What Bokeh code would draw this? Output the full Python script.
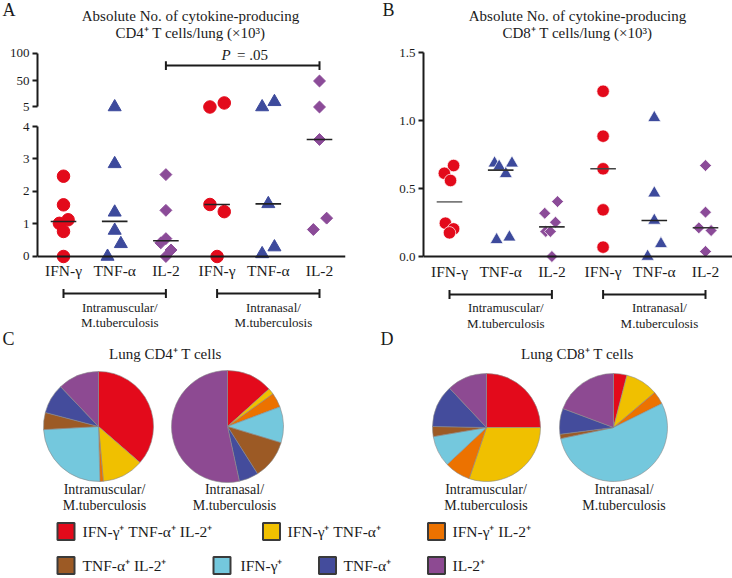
import numpy as np
from bokeh.plotting import figure
from bokeh.models import FixedTicker, Range1d, PrintfTickFormatter
from bokeh.layouts import column, row
from bokeh.embed import file_html
from bokeh.resources import INLINE
from bokeh.core.properties import value

FONT = "Liberation Serif"
INK = "#1b1b1b"

# ---------------- data ----------------
cytokines = ["IFN-γ", "TNF-α", "IL-2"]
tick_labels = cytokines + cytokines
route_line1 = ["Intramuscular/", "Intranasal/"]
route_line2 = ["M.tuberculosis", "M.tuberculosis"]

# Panel A: absolute no. of cytokine-producing CD4+ T cells/lung (x10^3)
cd4_im_ifng = [2.47, 1.59, 1.13, 1.02, 0.77, 0.0]
cd4_im_tnfa = [5.0, 2.85, 1.36, 0.80, 0.39, 0.0]
cd4_im_il2 = [2.52, 1.42, 0.55, 0.42, 0.20, 0.0]
cd4_in_ifng = [12.0, 5.0, 1.60, 1.38, 0.0]
cd4_in_tnfa = [14.0, 5.0, 1.62, 0.29, 0.08]
cd4_in_il2 = [50.0, 5.0, 3.60, 1.18, 0.83]
# horizontal scatter of the dots (category units)
cd4_im_ifng_jit = [0, 0, 0.09, -0.08, 0, 0]
cd4_im_tnfa_jit = [0, 0, 0, 0, 0.12, -0.14]
cd4_im_il2_jit = [0, 0, 0, -0.10, 0.10, 0]
cd4_in_ifng_jit = [0.14, -0.14, -0.14, 0.14, 0]
cd4_in_tnfa_jit = [0.12, -0.12, 0, 0.12, -0.12]
cd4_in_il2_jit = [0, 0, 0, 0.14, -0.12]

# Panel B: absolute no. of cytokine-producing CD8+ T cells/lung (x10^3)
cd8_im_ifng = [0.669, 0.612, 0.559, 0.245, 0.203, 0.174]
cd8_im_tnfa = [0.686, 0.662, 0.686, 0.608, 0.123, 0.142]
cd8_im_il2 = [0.404, 0.318, 0.252, 0.184, 0.184, 0.0]
cd8_in_ifng = [1.215, 0.885, 0.645, 0.343, 0.069]
cd8_in_tnfa = [1.02, 0.466, 0.265, 0.093, 0.0]
cd8_in_il2 = [0.669, 0.326, 0.211, 0.191, 0.037]
cd8_im_ifng_jit = [0.08, -0.10, 0.02, -0.08, 0.08, 0]
cd8_im_tnfa_jit = [-0.12, -0.03, 0.22, 0.10, -0.08, 0.17]
cd8_im_il2_jit = [0.11, -0.14, 0.07, -0.12, -0.03, 0]
cd8_in_ifng_jit = [0, 0, 0, 0, 0]
cd8_in_tnfa_jit = [0, 0, 0, 0.13, -0.13]
cd8_in_il2_jit = [0, 0, -0.13, 0.11, 0]

# Panels C, D: subset composition (%), legend order
subsets = ["IFN-γ⁺ TNF-α⁺ IL-2⁺", "IFN-γ⁺ TNF-α⁺", "IFN-γ⁺ IL-2⁺",
           "TNF-α⁺ IL-2⁺", "IFN-γ⁺", "TNF-α⁺", "IL-2⁺"]
subset_colors = ["#e30a1b", "#f0c000", "#ec7200", "#9c5a25", "#74c8dd", "#444c9c", "#8d4a92"]
pie_order = [0, 1, 2, 4, 3, 5, 6]   # clockwise from 12 o'clock
cd4_im_pie = [36.4, 12.2, 1.0, 5.0, 24.5, 8.8, 12.1]
cd4_in_pie = [13.3, 1.8, 4.2, 11.3, 10.4, 5.6, 53.4]
cd8_im_pie = [25.0, 30.2, 7.8, 3.0, 9.3, 12.7, 12.0]
cd8_in_pie = [4.0, 9.8, 3.9, 1.3, 54.0, 7.7, 19.3]

# broken axis of panel A: 0-4 linear, then 5 / 50 / 100 segment
break_vals = [5, 50, 100]
break_pos = [4.6, 5.4, 6.25]

marker_specs = [("circle", "#e30a1b", 12.5, 0.0),
                ("triangle", "#3d4a9c", 13, 0.0),
                ("square", "#8b4b98", 8.4, np.pi / 4)]


def a_pos(v):
    v = np.asarray(v, float)
    return np.where(v <= 4, v, np.interp(v, break_vals, break_pos))


def style_common(p):
    p.grid.visible = False
    p.outline_line_color = None
    p.background_fill_color = "white"
    p.border_fill_color = "white"


def style_yaxis(ax):
    ax.axis_line_width = 2
    ax.axis_line_color = INK
    ax.major_tick_line_width = 2
    ax.major_tick_line_color = INK
    ax.major_tick_out = 5
    ax.major_tick_in = 0
    ax.minor_tick_line_color = None
    ax.minor_tick_out = 0
    ax.major_label_text_font = FONT
    ax.major_label_text_font_size = "13px"
    ax.major_label_text_color = INK
    ax.major_label_standoff = 3


def style_xaxis(ax):
    ax.fixed_location = 0
    ax.ticker = FixedTicker(ticks=[1, 2, 3, 4, 5, 6])
    ax.major_label_overrides = {i + 1: t for i, t in enumerate(tick_labels)}
    ax.axis_line_width = 2
    ax.axis_line_color = INK
    ax.major_tick_line_color = None
    ax.major_tick_out = 0
    ax.major_tick_in = 0
    ax.minor_tick_line_color = None
    ax.major_label_text_font = FONT
    ax.major_label_text_font_size = "15.5px"
    ax.major_label_text_color = INK
    ax.major_label_standoff = 6


def txt(p, x, y, s, size, align="center", style="normal"):
    p.text(x=[x], y=[y], text=[s], text_font=value(FONT), text_font_size=size,
           text_align=align, text_baseline="middle", text_color=INK, text_font_style=style)


def points(p, pos, vals, jit, spec, keep=None, edge=None):
    marker, color, size, ang = spec
    x = pos + np.asarray(jit, float)
    y = np.asarray(vals, float)
    if keep is not None:
        m = keep(y)
        x, y = x[m], y[m]
        y = a_pos(y)
    if len(y):
        p.scatter(x, y, marker=marker, size=size, fill_color=color,
                  line_color=edge or color, line_width=0.7 if edge else 1, angle=ang)


def medians(p, vals_list, colors, half=0.25):
    med = [float(np.median(v)) for v in vals_list]
    pos = np.arange(1, len(vals_list) + 1)
    p.segment(x0=pos - half, x1=pos + half, y0=med, y1=med, line_color=colors, line_width=1.6)


def brackets(p, level, cap):
    for g in range(2):
        a, b = 3 * g + 1, 3 * g + 3
        p.segment(x0=[a], x1=[b], y0=[level], y1=[level], line_color=INK, line_width=2)
        p.segment(x0=[a, b], x1=[a, b], y0=[level - cap] * 2, y1=[level + cap] * 2,
                  line_color=INK, line_width=2)


def header(width, height):
    h = figure(width=width, height=height, x_range=Range1d(0, width), y_range=Range1d(0, height),
               output_backend="svg", toolbar_location=None,
               min_border_left=0, min_border_right=0, min_border_top=0, min_border_bottom=0)
    style_common(h)
    h.axis.visible = False
    return h


CAT_PX = 51.2
X_START = 1 - 26 / CAT_PX
shared_ax = Range1d(X_START, X_START + 308 / CAT_PX)

cd4_sets = [cd4_im_ifng, cd4_im_tnfa, cd4_im_il2, cd4_in_ifng, cd4_in_tnfa, cd4_in_il2]
cd4_jits = [cd4_im_ifng_jit, cd4_im_tnfa_jit, cd4_im_il2_jit, cd4_in_ifng_jit, cd4_in_tnfa_jit, cd4_in_il2_jit]
cd8_sets = [cd8_im_ifng, cd8_im_tnfa, cd8_im_il2, cd8_in_ifng, cd8_in_tnfa, cd8_in_il2]
cd8_jits = [cd8_im_ifng_jit, cd8_im_tnfa_jit, cd8_im_il2_jit, cd8_in_ifng_jit, cd8_in_tnfa_jit, cd8_in_il2_jit]

# ---------------- Panel A header ----------------
hA = header(370, 44)
txt(hA, 2, 35, "A", "18px", align="left")
txt(hA, 190, 29, "Absolute No. of cytokine-producing", "15px")
txt(hA, 190, 12, "CD4⁺ T cells/lung (×10³)", "15px")

# ---------------- Panel A, upper segment ----------------
fa_top = figure(width=370, height=74, x_range=shared_ax, y_range=Range1d(4.246, 6.523),
                output_backend="svg", toolbar_location=None,
                min_border_left=37, min_border_right=25, min_border_top=0, min_border_bottom=0)
style_common(fa_top)
fa_top.xaxis.visible = False
style_yaxis(fa_top.yaxis[0])
fa_top.yaxis.ticker = FixedTicker(ticks=break_pos)
fa_top.yaxis.major_label_overrides = {break_pos[i]: str(break_vals[i]) for i in range(3)}
fa_top.yaxis.bounds = (break_pos[0], break_pos[-1])
for i in range(6):
    points(fa_top, i + 1, cd4_sets[i], cd4_jits[i], marker_specs[i % 3], keep=lambda y: y >= 5)
# significance bracket IL-2 IM vs IL-2 IN
fa_top.segment(x0=[3], x1=[6], y0=[5.877], y1=[5.877], line_color=INK, line_width=2)
fa_top.segment(x0=[3, 6], x1=[3, 6], y0=[5.74] * 2, y1=[6.01] * 2, line_color=INK, line_width=2)
txt(fa_top, 4.086, 6.215, "P", "15px", align="left", style="italic")
txt(fa_top, 4.39, 6.215, "= .05", "15px", align="left")

# ---------------- Panel A, lower segment ----------------
fa_bot = figure(width=370, height=212, x_range=shared_ax, y_range=Range1d(-2.277, 4.246),
                output_backend="svg", toolbar_location=None,
                min_border_left=37, min_border_right=25, min_border_top=0, min_border_bottom=0)
style_common(fa_bot)
style_yaxis(fa_bot.yaxis[0])
fa_bot.yaxis.ticker = FixedTicker(ticks=[0, 1, 2, 3, 4])
fa_bot.yaxis.bounds = (0, 4)
style_xaxis(fa_bot.xaxis[0])
for i in range(6):
    points(fa_bot, i + 1, cd4_sets[i], cd4_jits[i], marker_specs[i % 3], keep=lambda y: y <= 4)
medians(fa_bot, cd4_sets, ["#222222"] * 6)
brackets(fa_bot, -1.138, 0.138)
for g in range(2):
    txt(fa_bot, 3 * g + 2.1, -1.57, route_line1[g], "13px")
    txt(fa_bot, 3 * g + 2.1, -2.03, route_line2[g], "13px")

# ---------------- Panel B ----------------
hB = header(362, 44)
txt(hB, 12, 35, "B", "18px", align="left")
txt(hB, 207, 29, "Absolute No. of cytokine-producing", "15px")
txt(hB, 207, 12, "CD8⁺ T cells/lung (×10³)", "15px")

fB = figure(width=362, height=286, x_range=Range1d(X_START, X_START + 309 / CAT_PX),
            y_range=Range1d(-0.544, 1.559),
            output_backend="svg", toolbar_location=None,
            min_border_left=53, min_border_right=0, min_border_top=0, min_border_bottom=0)
style_common(fB)
style_yaxis(fB.yaxis[0])
fB.yaxis.ticker = FixedTicker(ticks=[0, 0.5, 1.0, 1.5])
fB.yaxis.formatter = PrintfTickFormatter(format="%.1f")
fB.yaxis.bounds = (0, 1.5)
style_xaxis(fB.xaxis[0])
for i in range(6):
    points(fB, i + 1, cd8_sets[i], cd8_jits[i], marker_specs[i % 3], edge="white")
medians(fB, cd8_sets, ["#7a7a7a", "#333333", "#333333", "#444444", "#222222", "#333333"])
brackets(fB, -0.279, 0.033)
for g in range(2):
    txt(fB, 3 * g + 2.1, -0.375, route_line1[g], "13px")
    txt(fB, 3 * g + 2.1, -0.493, route_line2[g], "13px")

# ---------------- Panels C, D (pies) + legend ----------------
fP = header(732, 248)

pies = [(98, 152, 55, cd4_im_pie), (227, 152, 56, cd4_in_pie),
        (486, 151, 54, cd8_im_pie), (613, 151, 54, cd8_in_pie)]
for cx, cy, r, pct in pies:
    vals = np.array([pct[k] for k in pie_order], float)
    frac = vals / vals.sum()
    cum = np.concatenate([[0.0], np.cumsum(frac)])
    start = np.pi / 2 - 2 * np.pi * cum[:-1]
    end = np.pi / 2 - 2 * np.pi * cum[1:]
    fP.wedge(x=[cx] * len(frac), y=[cy] * len(frac), radius=r, start_angle=start, end_angle=end,
             direction="clock", fill_color=[subset_colors[k] for k in pie_order],
             line_color="#8a8a8a", line_width=0.6)

txt(fP, 2, 240, "C", "18px", align="left")
txt(fP, 380, 240, "D", "18px", align="left")
txt(fP, 165, 225, "Lung CD4⁺ T cells", "15px")
txt(fP, 577, 225, "Lung CD8⁺ T cells", "15px")
pie_label_x = [104, 234, 485.5, 623.5]
for k, lx in enumerate(pie_label_x):
    txt(fP, lx, 89, route_line1[k % 2], "14px")
    txt(fP, lx, 73, route_line2[k % 2], "14px")

legend_sw_x = [65.5, 271, 436, 65.5, 221.5, 327, 436]
legend_tx_x = [82, 287, 452, 82, 240, 343, 452]
legend_y = [47, 47, 47, 13, 13, 13, 13]
fP.rect(x=legend_sw_x, y=legend_y, width=17, height=17, fill_color=subset_colors,
        line_color="#3a3a3a", line_width=2)
fP.text(x=legend_tx_x, y=legend_y, text=subsets, text_font=value(FONT), text_font_size="15.5px",
        text_align="left", text_baseline="middle", text_color=INK)

layout = column(row(hA, hB), row(column(fa_top, fa_bot), fB), fP)
open("out.html", "w").write(file_html(layout, INLINE))
